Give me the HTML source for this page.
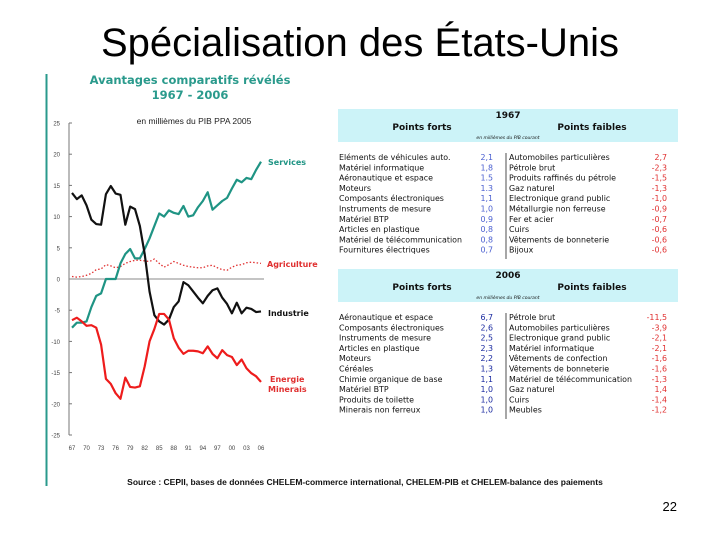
<!DOCTYPE html>
<html><head><meta charset="utf-8"><style>
html,body{margin:0;padding:0;background:#fff;width:720px;height:540px;overflow:hidden}
svg{display:block;font-family:"Liberation Sans",sans-serif}
.dv{font-family:"DejaVu Sans",sans-serif}
</style></head><body>
<svg id="s" width="720" height="540" viewBox="0 0 720 540">
<text x="360" y="56" text-anchor="middle" font-size="40" fill="#000">Spécialisation des États-Unis</text>
<line x1="46.5" y1="74" x2="46.5" y2="486" stroke="#2a9a8c" stroke-width="2"/>
<text class="dv" x="190" y="84" text-anchor="middle" font-size="11.5" font-weight="bold" fill="#2a9a8c">Avantages comparatifs révélés</text>
<text class="dv" x="190" y="99" text-anchor="middle" font-size="11.5" font-weight="bold" fill="#2a9a8c">1967 - 2006</text>
<text x="194" y="124" text-anchor="middle" font-size="8.5" fill="#222">en millièmes du PIB PPA 2005</text>
<g id="chart"></g>
<rect x="338" y="109" width="340" height="33" fill="#ccf3f8"/>
<rect x="338" y="269" width="340" height="33" fill="#ccf3f8"/>
<g id="tables" class="dv"></g>
<text x="365" y="485" text-anchor="middle" font-size="8.5" font-weight="bold" fill="#111">Source : CEPII, bases de données CHELEM-commerce international, CHELEM-PIB et CHELEM-balance des paiements</text>
<text x="677" y="511" text-anchor="end" font-size="13" fill="#000">22</text>
</svg>
<script>
const years=["67","70","73","76","79","82","85","88","91","94","97","00","03","06"];
const yTicks=[25,20,15,10,5,0,-5,-10,-15,-20,-25];
const services=[-7.8,-7,-7,-6.8,-4.5,-2.7,-2.3,0,0,0,2.5,4,4.8,3.3,3.3,4.8,6.5,8.5,10.5,10,11,10.6,10.4,11.7,10,10.2,11.5,12.5,13.9,11.1,11.8,12.5,13,14.5,15.9,15.5,16.2,16,17.5,18.8];
const industrie=[13.8,12.8,13.4,11.8,9.5,8.8,8.7,13.6,14.9,13.7,13.5,8.7,11.6,11.2,8.5,4,-2,-5.8,-6.8,-7.3,-6.5,-4.5,-3.6,-0.5,-1,-2,-3,-3.9,-2.7,-1.8,-1.5,-3,-4,-5.5,-3.8,-5.5,-4.6,-4.8,-5.3,-5.2];
const energie=[-6.6,-6.2,-6.8,-7.5,-7.4,-7.8,-10.5,-16,-16.8,-18.3,-19.2,-15.8,-17.3,-17.4,-17.2,-14,-10,-8,-5.6,-5.6,-6.5,-9.5,-11,-12,-11.5,-11.5,-11.6,-11.9,-10.8,-12,-12.7,-11.4,-12.2,-12.5,-13.8,-12.9,-14.3,-15.1,-15.6,-16.5];
const agriculture=[0.4,0.3,0.4,0.6,0.9,1.5,1.6,2.3,2.1,1.8,2,2.5,2.8,3,3,2.9,2.8,3.2,2.5,1.9,2.3,2.8,2.5,2.2,2,1.9,1.8,1.8,2.1,2.2,1.8,1.5,1.4,1.9,2.2,2.3,2.6,2.7,2.6,2.5];
const NS='http://www.w3.org/2000/svg';
const X=i=>72+i*(189/39);
const Y=v=>279-v*(156/25);
function mk(t,a,p){const e=document.createElementNS(NS,t);for(const k in a)e.setAttribute(k,a[k]);p.appendChild(e);return e;}
const g=document.getElementById('chart');
const ax=mk('line',{x1:69,y1:Y(25),x2:69,y2:Y(-25),stroke:'#777','stroke-width':1},g);


yTicks.forEach(v=>{
 const t=mk('text',{x:60,y:Y(v)+2.5,'text-anchor':'end','font-size':6,fill:'#444'},g);t.textContent=v;
 
 
 mk('line',{x1:69,y1:Y(v),x2:72,y2:Y(v),stroke:'#777'},g);
});
const zl=mk('line',{x1:69,y1:Y(0),x2:264,y2:Y(0),stroke:'#888','stroke-width':1},g);


years.forEach((y,i)=>{
 const t=mk('text',{x:X(i*3),y:450,'text-anchor':'middle','font-size':6,fill:'#444'},g);t.textContent=y;
 
 
});
function line(d,c,w,dash,name){
 const p=mk('polyline',{points:d.map((v,i)=>X(i)+','+Y(v)).join(' '),fill:'none',stroke:c,'stroke-width':w,'stroke-linejoin':'round'},g);
 if(dash)p.setAttribute('stroke-dasharray',dash);
 
 
}
line(agriculture,'#e03030',1.3,'1.5 2','agriculture-line');
line(services,'#1f9484',2.2,null,'services-line');
line(industrie,'#111',2.2,null,'industrie-line');
line(energie,'#ee1c1c',2.2,null,'energie-line');
function lab(x,y,txt,c,name){const t=mk('text',{x:x,y:y,'font-size':8,'font-weight':'bold',fill:c,'font-family':'DejaVu Sans, sans-serif'},g);t.textContent=txt;
 
 }
lab(268,165,'Services','#1f9484','label-services');
lab(267,267,'Agriculture','#e03030','label-agriculture');
lab(268,316,'Industrie','#111','label-industrie');
lab(270,382,'Energie','#e03030','label-energie');
lab(268,392,'Minerais','#e03030','label-minerais');
const tb=document.getElementById('tables');
const f67=["Eléments de véhicules auto.","Matériel informatique","Aéronautique et espace","Moteurs","Composants électroniques","Instruments de mesure","Matériel BTP","Articles en plastique","Matériel de télécommunication","Fournitures électriques"];
const fv67=["2,1","1,8","1.5","1.3","1,1","1,0","0,9","0,8","0,8","0,7"];
const w67=["Automobiles particulières","Pétrole brut","Produits raffinés du pétrole","Gaz naturel","Electronique grand public","Métallurgie non ferreuse","Fer et acier","Cuirs","Vêtements de bonneterie","Bijoux"];
const wv67=["2,7","-2,3","-1,5","-1,3","-1,0","-0,9","-0,7","-0,6","-0,6","-0,6"];
const f06=["Aéronautique et espace","Composants électroniques","Instruments de mesure","Articles en plastique","Moteurs","Céréales","Chimie organique de base","Matériel BTP","Produits de toilette","Minerais non ferreux"];
const fv06=["6,7","2,6","2,5","2,3","2,2","1,3","1,1","1,0","1,0","1,0"];
const w06=["Pétrole brut","Automobiles particulières","Electronique grand public","Matériel informatique","Vêtements de confection","Vêtements de bonneterie","Matériel de télécommunication","Gaz naturel","Cuirs","Meubles"];
const wv06=["-11,5","-3,9","-2,1","-2,1","-1,6","-1,6","-1,3","1,4","-1,4","-1,2"];
function table(y0,yr,f,fv,w,wv,vc,nm){
 const t=(x,y,s,o)=>{const e=mk('text',Object.assign({x:x,y:y,'font-size':7.9,fill:'#111'},o||{}),tb);e.textContent=s;return e;};
 let e=t(508,y0+10,yr,{'text-anchor':'middle','font-size':9,'font-weight':'bold'});
 
 
 e=t(422,y0+22,'Points forts',{'text-anchor':'middle','font-size':9,'font-weight':'bold'});
 
 
 e=t(592,y0+22,'Points faibles',{'text-anchor':'middle','font-size':9,'font-weight':'bold'});
 
 
 t(508,y0+31,'en millièmes du PIB courant',{'text-anchor':'middle','font-size':4.5,'font-style':'italic'});
 mk('line',{x1:506,y1:y0+45,x2:506,y2:y0+151,stroke:'#222','stroke-width':0.8},tb);
 f.forEach((s,i)=>{const y=y0+52+i*10.3;
  t(339,y,s);t(493,y,fv[i],{'text-anchor':'end',fill:vc});
  t(509,y,w[i]);t(667,y,wv[i],{'text-anchor':'end',fill:'#e03030'});});
}
table(108,'1967',f67,fv67,w67,wv67,'#4a5fd0','table-1967');
table(268,'2006',f06,fv06,w06,wv06,'#1a2aa0','table-2006');
</script>
</body></html>
